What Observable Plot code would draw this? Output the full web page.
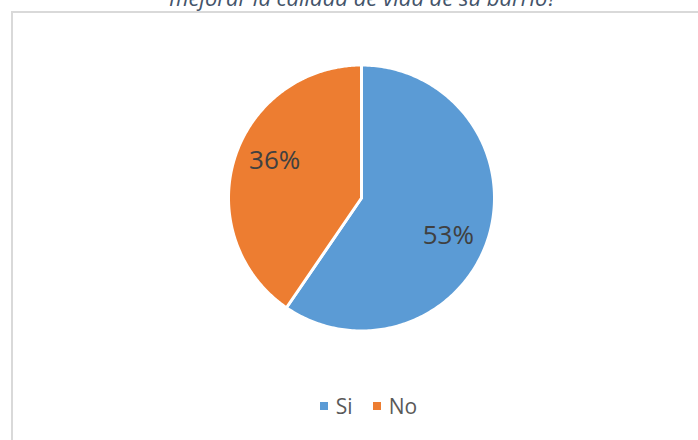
<!DOCTYPE html>
<html><head><meta charset="utf-8">
<script src="https://cdn.jsdelivr.net/npm/d3@7"></script>
<script src="https://cdn.jsdelivr.net/npm/@observablehq/plot@0.6"></script>
<style>
body{margin:0;background:#fff;font-family:"Open Sans",sans-serif;}
#wrap{position:relative;width:698px;height:440px;overflow:hidden;background:#fff;}
#frame{position:absolute;left:11px;top:11px;width:800px;height:500px;border-left:2px solid #d9d9d9;border-top:2px solid #d9d9d9;}
#title{position:absolute;left:0;width:726px;top:-14.5px;text-align:center;font-style:italic;font-size:22px;line-height:22px;color:#44546a;white-space:nowrap;}
#chart{position:absolute;left:0;top:0;}
#legend{position:absolute;top:392px;left:0;width:737px;display:flex;justify-content:center;align-items:center;font-size:21px;color:#595959;}
.item{display:flex;align-items:center;margin:0 10px;}
.sw{width:8px;height:8px;margin-right:8px;}
</style>
</head><body>
<div id="wrap">
  <div id="frame"></div>
  <div id="title"></div>
  <div id="chart"></div>
  <div id="legend"></div>
</div>
<script>
const titleText = "mejorar la calidad de vida de su barrio?";
const categories = ["Si", "No"];
const values = [53, 36];
const labels = ["53%", "36%"];
const colors = ["#5b9bd5", "#ed7d31"];

document.getElementById("title").textContent = titleText;

const arcs = d3.pie().sort(null).value(d => d.value)(
  categories.map((c, i) => ({key: c, value: values[i], label: labels[i]}))
);

// slice outlines in unit-circle space, from pie angles
const outline = [];
for (const a of arcs) {
  const n = 240;
  outline.push({key: a.data.key, x: 0, y: 0});
  for (let k = 0; k <= n; k++) {
    const t = a.startAngle + (a.endAngle - a.startAngle) * k / n;
    outline.push({key: a.data.key, x: Math.sin(t), y: Math.cos(t)});
  }
  outline.push({key: a.data.key, x: 0, y: 0});
}
const labelR = 0.71;
const labelTurn = 6 * Math.PI / 180; // label placement style
const labelPts = arcs.map(a => {
  const m = (a.startAngle + a.endAngle) / 2 + labelTurn;
  return {key: a.data.key, label: a.data.label, x: labelR * Math.sin(m), y: labelR * Math.cos(m)};
});

const chart = Plot.plot({
  width: 698,
  height: 380,
  marginLeft: 228,
  marginRight: 204,
  marginTop: 64.5,
  marginBottom: 49.5,
  x: {domain: [-1, 1], axis: null},
  y: {domain: [-1, 1], axis: null},
  color: {domain: categories, range: colors},
  style: {background: "transparent", fontFamily: "'Open Sans', sans-serif"},
  marks: [
    Plot.line(outline, {x: "x", y: "y", z: "key", fill: "key", stroke: "white", strokeWidth: 3, strokeLinejoin: "round", curve: "linear"}),
    Plot.text(labelPts, {x: "x", y: "y", text: "label", fontSize: 26, fill: "#404040"})
  ]
});
document.getElementById("chart").appendChild(chart);

const legend = document.getElementById("legend");
categories.forEach((c, i) => {
  const it = document.createElement("div");
  it.className = "item";
  const sw = document.createElement("div");
  sw.className = "sw";
  sw.style.background = colors[i];
  const tx = document.createElement("span");
  tx.textContent = c;
  it.appendChild(sw); it.appendChild(tx);
  legend.appendChild(it);
});
</script>
</body></html>
